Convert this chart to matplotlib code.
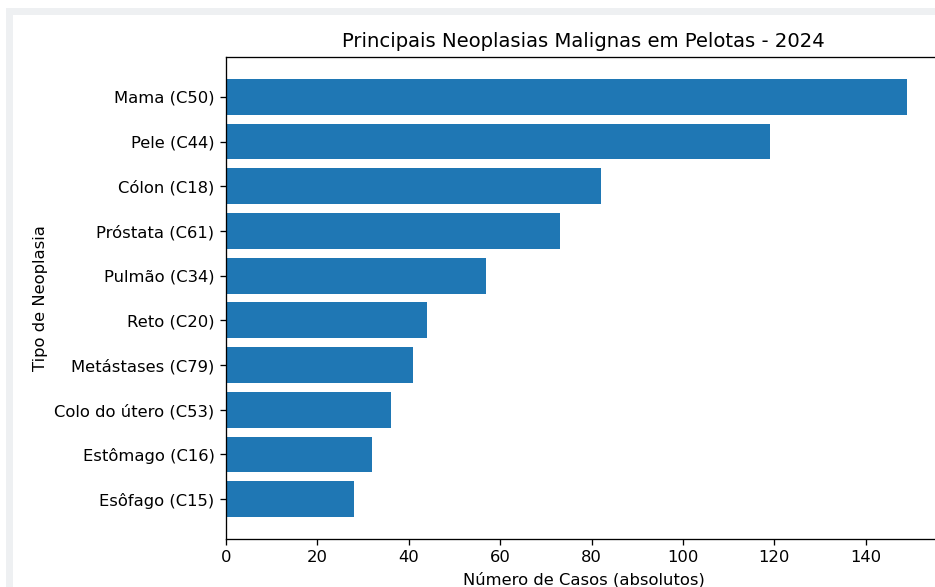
import matplotlib
matplotlib.use("Agg")
import matplotlib.pyplot as plt
from matplotlib.patches import Rectangle

categorias = ["Mama (C50)", "Pele (C44)", "Cólon (C18)", "Próstata (C61)", "Pulmão (C34)",
              "Reto (C20)", "Metástases (C79)", "Colo do útero (C53)", "Estômago (C16)", "Esôfago (C15)"]
casos = [149, 119, 82, 73, 57, 44, 41, 36, 32, 28]

S = 1.18  # screenshot scale factor
plt.rcParams.update({
    "axes.linewidth": 0.8 * S,
    "xtick.major.size": 3.5 * S, "ytick.major.size": 3.5 * S,
    "xtick.major.width": 0.8 * S, "ytick.major.width": 0.8 * S,
    "xtick.major.pad": 3.5 * S, "ytick.major.pad": 3.5 * S,
    "axes.labelpad": 4.0 * S, "axes.titlepad": 6.0 * S,
})

W, H = 935, 587
fig = plt.figure(figsize=(W / 100, H / 100), dpi=100)
fig.patch.set_facecolor("white")

# screenshot frame (light gray band at top and left)
gray = "#eef0f2"
fig.patches.append(Rectangle((6 / W, 0), 7 / W, 1 - 8 / H, transform=fig.transFigure,
                             facecolor=gray, edgecolor="none", zorder=0))
fig.patches.append(Rectangle((6 / W, 1 - 15 / H), 1, 7 / H, transform=fig.transFigure,
                             facecolor=gray, edgecolor="none", zorder=0))

ax = fig.add_axes([226 / W, 48 / H, 715 / W, 482 / H])
ax.barh(categorias[::-1], casos[::-1], color="#1f77b4")
ax.set_title("Principais Neoplasias Malignas em Pelotas - 2024", fontsize=12 * S)
ax.set_xlabel("Número de Casos (absolutos)", fontsize=10 * S)
ax.set_ylabel("Tipo de Neoplasia", fontsize=10 * S)
ax.set_xticks([0, 20, 40, 60, 80, 100, 120, 140])
ax.tick_params(labelsize=10 * S)

fig.savefig("out.png", dpi=100)
